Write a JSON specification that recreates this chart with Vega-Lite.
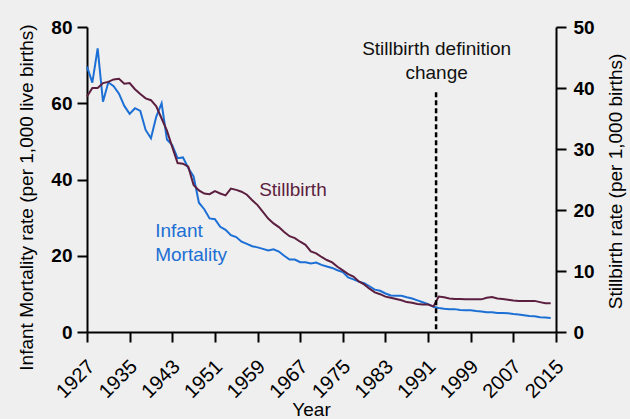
{
  "$schema": "https://vega.github.io/schema/vega-lite/v6.json",
  "width": 469,
  "height": 305,
  "autosize": {"type": "none"},
  "padding": {"left": 87, "top": 27, "right": 74, "bottom": 87},
  "background": "#efefef",
  "config": {
    "view": {"stroke": null},
    "font": "Liberation Sans",
    "axis": {
      "grid": false,
      "domainColor": "#000000",
      "domainWidth": 2,
      "tickColor": "#000000",
      "tickWidth": 2,
      "tickSize": 10,
      "labelColor": "#000000",
      "titleColor": "#000000",
      "labelFont": "Liberation Sans",
      "titleFont": "Liberation Sans",
      "titleFontWeight": "normal"
    }
  },
  "datasets": {
    "infant": [
      {"year": 1927, "v": 69.6}, {"year": 1928, "v": 65.4}, {"year": 1929, "v": 74.4}, {"year": 1930, "v": 60.4},
      {"year": 1931, "v": 65.5}, {"year": 1932, "v": 64.5}, {"year": 1933, "v": 62.5}, {"year": 1934, "v": 59.3},
      {"year": 1935, "v": 57.2}, {"year": 1936, "v": 58.7}, {"year": 1937, "v": 58.0}, {"year": 1938, "v": 53.0},
      {"year": 1939, "v": 50.8}, {"year": 1940, "v": 56.5}, {"year": 1941, "v": 60.0}, {"year": 1942, "v": 50.5},
      {"year": 1943, "v": 49.0}, {"year": 1944, "v": 45.6}, {"year": 1945, "v": 45.8}, {"year": 1946, "v": 43.0},
      {"year": 1947, "v": 40.8}, {"year": 1948, "v": 33.9}, {"year": 1949, "v": 32.2}, {"year": 1950, "v": 29.8},
      {"year": 1951, "v": 29.6}, {"year": 1952, "v": 27.6}, {"year": 1953, "v": 26.8}, {"year": 1954, "v": 25.4},
      {"year": 1955, "v": 24.9}, {"year": 1956, "v": 23.7}, {"year": 1957, "v": 23.1}, {"year": 1958, "v": 22.5},
      {"year": 1959, "v": 22.2}, {"year": 1960, "v": 21.8}, {"year": 1961, "v": 21.4}, {"year": 1962, "v": 21.7},
      {"year": 1963, "v": 21.1}, {"year": 1964, "v": 20.0}, {"year": 1965, "v": 19.0}, {"year": 1966, "v": 19.0},
      {"year": 1967, "v": 18.3}, {"year": 1968, "v": 18.3}, {"year": 1969, "v": 18.0}, {"year": 1970, "v": 18.2},
      {"year": 1971, "v": 17.6}, {"year": 1972, "v": 17.2}, {"year": 1973, "v": 16.8}, {"year": 1974, "v": 16.2},
      {"year": 1975, "v": 15.7}, {"year": 1976, "v": 14.3}, {"year": 1977, "v": 13.8}, {"year": 1978, "v": 13.2},
      {"year": 1979, "v": 12.8}, {"year": 1980, "v": 12.0}, {"year": 1981, "v": 11.1}, {"year": 1982, "v": 10.8},
      {"year": 1983, "v": 10.1}, {"year": 1984, "v": 9.6}, {"year": 1985, "v": 9.5}, {"year": 1986, "v": 9.5},
      {"year": 1987, "v": 9.1}, {"year": 1988, "v": 8.8}, {"year": 1989, "v": 8.3}, {"year": 1990, "v": 7.8},
      {"year": 1991, "v": 7.3}, {"year": 1992, "v": 6.6}, {"year": 1993, "v": 6.3}, {"year": 1994, "v": 6.1},
      {"year": 1995, "v": 6.0}, {"year": 1996, "v": 6.0}, {"year": 1997, "v": 5.8}, {"year": 1998, "v": 5.7},
      {"year": 1999, "v": 5.7}, {"year": 2000, "v": 5.5}, {"year": 2001, "v": 5.4}, {"year": 2002, "v": 5.2},
      {"year": 2003, "v": 5.2}, {"year": 2004, "v": 5.0}, {"year": 2005, "v": 5.0}, {"year": 2006, "v": 4.9},
      {"year": 2007, "v": 4.7}, {"year": 2008, "v": 4.6}, {"year": 2009, "v": 4.4}, {"year": 2010, "v": 4.2},
      {"year": 2011, "v": 4.1}, {"year": 2012, "v": 3.9}, {"year": 2013, "v": 3.8}, {"year": 2014, "v": 3.7}
    ],
    "still": [
      {"year": 1927, "v": 38.6}, {"year": 1928, "v": 40.0}, {"year": 1929, "v": 40.0}, {"year": 1930, "v": 40.8},
      {"year": 1931, "v": 41.0}, {"year": 1932, "v": 41.4}, {"year": 1933, "v": 41.5}, {"year": 1934, "v": 40.7},
      {"year": 1935, "v": 40.8}, {"year": 1936, "v": 39.8}, {"year": 1937, "v": 39.0}, {"year": 1938, "v": 38.3},
      {"year": 1939, "v": 38.0}, {"year": 1940, "v": 37.0}, {"year": 1941, "v": 35.0}, {"year": 1942, "v": 33.0},
      {"year": 1943, "v": 30.3}, {"year": 1944, "v": 27.7}, {"year": 1945, "v": 27.6}, {"year": 1946, "v": 27.1},
      {"year": 1947, "v": 24.1}, {"year": 1948, "v": 23.2}, {"year": 1949, "v": 22.7}, {"year": 1950, "v": 22.6},
      {"year": 1951, "v": 23.1}, {"year": 1952, "v": 22.7}, {"year": 1953, "v": 22.4}, {"year": 1954, "v": 23.5},
      {"year": 1955, "v": 23.3}, {"year": 1956, "v": 23.0}, {"year": 1957, "v": 22.5}, {"year": 1958, "v": 21.6},
      {"year": 1959, "v": 20.8}, {"year": 1960, "v": 19.7}, {"year": 1961, "v": 18.6}, {"year": 1962, "v": 17.8},
      {"year": 1963, "v": 17.2}, {"year": 1964, "v": 16.4}, {"year": 1965, "v": 15.7}, {"year": 1966, "v": 15.4},
      {"year": 1967, "v": 14.8}, {"year": 1968, "v": 14.3}, {"year": 1969, "v": 13.2}, {"year": 1970, "v": 12.9},
      {"year": 1971, "v": 12.3}, {"year": 1972, "v": 11.8}, {"year": 1973, "v": 11.4}, {"year": 1974, "v": 10.7},
      {"year": 1975, "v": 10.1}, {"year": 1976, "v": 9.5}, {"year": 1977, "v": 9.1}, {"year": 1978, "v": 8.3},
      {"year": 1979, "v": 7.8}, {"year": 1980, "v": 7.1}, {"year": 1981, "v": 6.5}, {"year": 1982, "v": 6.2},
      {"year": 1983, "v": 5.8}, {"year": 1984, "v": 5.6}, {"year": 1985, "v": 5.4}, {"year": 1986, "v": 5.2},
      {"year": 1987, "v": 4.9}, {"year": 1988, "v": 4.8}, {"year": 1989, "v": 4.6}, {"year": 1990, "v": 4.5},
      {"year": 1991, "v": 4.5}, {"year": 1992, "v": 4.2}, {"year": 1993, "v": 5.8}, {"year": 1994, "v": 5.7},
      {"year": 1995, "v": 5.5}, {"year": 1996, "v": 5.4}, {"year": 1997, "v": 5.4}, {"year": 1998, "v": 5.35},
      {"year": 1999, "v": 5.35}, {"year": 2000, "v": 5.35}, {"year": 2001, "v": 5.35}, {"year": 2002, "v": 5.6},
      {"year": 2003, "v": 5.75}, {"year": 2004, "v": 5.5}, {"year": 2005, "v": 5.4}, {"year": 2006, "v": 5.3},
      {"year": 2007, "v": 5.15}, {"year": 2008, "v": 5.1}, {"year": 2009, "v": 5.1}, {"year": 2010, "v": 5.1},
      {"year": 2011, "v": 5.1}, {"year": 2012, "v": 4.9}, {"year": 2013, "v": 4.7}, {"year": 2014, "v": 4.7}
    ],
    "infantLabel": [{"year": 1939.8, "v": 25.0, "label": "Infant\nMortality"}],
    "stillLabel": [{"year": 1959.3, "v": 22.3, "label": "Stillbirth"}],
    "annot": [{"year": 1992.6, "v": 45.4, "label": "Stillbirth definition\nchange"}],
    "rule": [{"year": 1992.5, "v": 39.3, "v2": 0}]
  },
  "encoding": {
    "x": {
      "field": "year",
      "type": "quantitative",
      "scale": {"domain": [1927, 2015], "nice": false, "zero": false},
      "axis": {
        "values": [1927, 1935, 1943, 1951, 1959, 1967, 1975, 1983, 1991, 1999, 2007, 2015],
        "format": "d",
        "labelAngle": -45,
        "labelAlign": "right",
        "labelBaseline": "top",
        "labelFlush": false,
        "labelOverlap": false,
        "labelFontSize": 20,
        "labelPadding": 14,
        "labelOffset": -3,
        "title": "Year",
        "titleFontSize": 19,
        "titleX": 224,
        "titleY": 83,
        "titleBaseline": "alphabetic",
        "titleAlign": "center"
      }
    }
  },
  "layer": [
    {
      "encoding": {
        "y": {
          "field": "v",
          "type": "quantitative",
          "scale": {"domain": [0, 80], "nice": false},
          "axis": {
            "orient": "left",
            "values": [0, 20, 40, 60, 80],
            "labelFontSize": 19,
            "labelFontWeight": "bold",
            "labelPadding": 5,
            "title": "Infant Mortality rate (per 1,000 live births)",
            "titleFontSize": 19,
            "titleAngle": 270,
            "titleX": -61,
            "titleY": 170,
            "titleBaseline": "middle",
            "titleAlign": "center"
          }
        }
      },
      "layer": [
        {
          "data": {"name": "infant"},
          "mark": {"type": "line", "color": "#1c6fd4", "strokeWidth": 2}
        },
        {
          "data": {"name": "infantLabel"},
          "mark": {"type": "text", "align": "left", "baseline": "alphabetic", "fontSize": 19, "lineBreak": "\n", "lineHeight": 24, "color": "#1c6fd4"},
          "encoding": {"text": {"field": "label"}}
        }
      ]
    },
    {
      "encoding": {
        "y": {
          "field": "v",
          "type": "quantitative",
          "scale": {"domain": [0, 50], "nice": false},
          "axis": {
            "orient": "right",
            "values": [0, 10, 20, 30, 40, 50],
            "labelFontSize": 19,
            "labelFontWeight": "bold",
            "labelPadding": 7,
            "title": "Stillbirth rate (per 1,000 births)",
            "titleFontSize": 19,
            "titleAngle": 270,
            "titleX": 59,
            "titleY": 154,
            "titleBaseline": "middle",
            "titleAlign": "center"
          }
        }
      },
      "layer": [
        {
          "data": {"name": "still"},
          "mark": {"type": "line", "color": "#5c1f40", "strokeWidth": 2}
        },
        {
          "data": {"name": "stillLabel"},
          "mark": {"type": "text", "align": "left", "baseline": "alphabetic", "fontSize": 19, "color": "#5c1f40"},
          "encoding": {"text": {"field": "label"}}
        },
        {
          "data": {"name": "annot"},
          "mark": {"type": "text", "align": "center", "baseline": "alphabetic", "fontSize": 19, "lineBreak": "\n", "lineHeight": 24, "color": "#111111"},
          "encoding": {"text": {"field": "label"}}
        },
        {
          "data": {"name": "rule"},
          "mark": {"type": "rule", "color": "#000000", "strokeWidth": 2.5, "strokeDash": [5, 3]},
          "encoding": {"y2": {"field": "v2"}}
        }
      ]
    }
  ],
  "resolve": {"scale": {"y": "independent"}}
}
